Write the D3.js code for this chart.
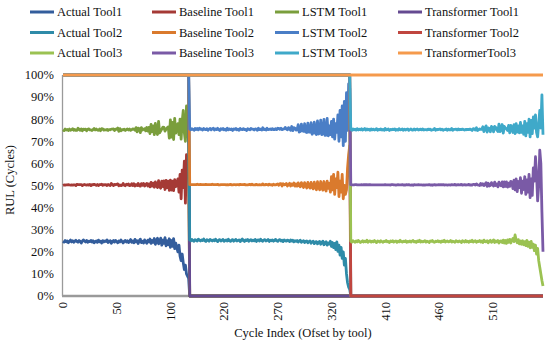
<!DOCTYPE html>
<html>
<head>
<meta charset="utf-8">
<script src="https://cdn.jsdelivr.net/npm/d3@7.9.0/dist/d3.min.js"></script>
<style>
  html, body { margin: 0; padding: 0; background: #fff; }
  svg { display: block; font-family: "Liberation Serif", "Times New Roman", serif; }
</style>
</head>
<body>
<svg id="chart" width="550" height="344"></svg>
<script>
// share of each model's RUL within a 100% stacked line (per cycle index)
const actualTool1 = [
  24.8, 24.4, 25.1, 24.6, 24.9, 24.1, 24.7, 25.3, 24.5, 25.0,
  24.3, 24.8, 25.2, 24.6, 24.4, 25.1, 24.7, 24.0, 24.8, 25.4,
  24.9, 24.5, 25.1, 24.3, 24.8, 24.6, 25.2, 24.4, 25.0, 24.1,
  24.7, 24.9, 24.3, 25.3, 24.6, 24.8, 24.0, 25.1, 24.5, 24.9,
  24.7, 25.4, 24.2, 24.8, 25.0, 23.9, 24.7, 25.1, 24.4, 25.2,
  24.6, 24.1, 24.9, 24.5, 25.3, 24.7, 24.0, 24.8, 25.1, 24.4,
  25.0, 24.2, 24.8, 25.5, 24.3, 24.9, 24.1, 25.6, 24.5, 25.0,
  23.8, 25.1, 25.7, 24.2, 24.8, 24.0, 25.4, 24.6, 23.9, 25.2,
  24.5, 25.8, 23.8, 25.1, 24.3, 26.0, 23.4, 24.9, 26.1, 23.6,
  24.7, 26.2, 23.0, 25.3, 23.8, 26.4, 22.7, 25.0, 23.2, 25.9,
  22.0, 25.1, 22.5, 26.0, 21.4, 23.9, 22.0, 20.0, 23.0, 18.0,
  16.0, 19.0, 15.0, 12.0, 14.0, 10.0, 9.0, 8.0
];
const baselineTool1 = [
  25.3, 25.9, 25.1, 25.7, 25.4, 26.2, 25.6, 24.9, 25.8, 25.2,
  26.0, 25.5, 24.8, 25.9, 26.1, 25.3, 25.7, 26.4, 25.2, 24.9,
  25.6, 25.8, 25.0, 26.1, 25.4, 25.9, 24.8, 26.0, 25.3, 26.5,
  25.7, 25.1, 26.2, 24.7, 25.8, 25.6, 26.6, 25.0, 25.9, 25.4,
  25.7, 24.6, 26.3, 25.5, 25.0, 27.0, 25.8, 24.9, 26.1, 25.2,
  25.9, 26.7, 25.0, 25.8, 24.6, 25.5, 26.9, 25.3, 24.8, 26.2,
  25.4, 26.5, 25.2, 24.5, 26.6, 25.1, 26.8, 24.2, 25.9, 25.0,
  27.2, 24.8, 24.0, 26.7, 25.3, 26.9, 24.4, 25.8, 27.1, 24.6,
  26.2, 23.6, 27.6, 24.6, 26.8, 23.2, 28.2, 25.0, 23.0, 28.6,
  24.8, 22.6, 29.0, 24.2, 28.3, 21.8, 29.6, 24.0, 28.8, 21.9,
  30.4, 22.8, 29.5, 21.7, 31.2, 25.6, 29.0, 33.0, 24.0, 37.0,
  28.0, 38.0, 34.0, 49.0, 28.0, 54.0, 49.0, 52.0
];
const lstmTool1 = [
  25.2, 24.6, 25.4, 24.9, 25.1, 24.5, 25.3, 24.8, 25.0, 25.6,
  24.7, 25.1, 24.9, 24.4, 25.5, 25.0, 24.6, 25.3, 24.8, 25.2,
  24.9, 25.3, 24.6, 25.1, 25.4, 24.7, 25.2, 24.5, 25.0, 25.3,
  24.8, 25.5, 24.6, 25.0, 25.2, 24.4, 25.1, 25.6, 24.7, 25.0,
  24.8, 25.4, 24.5, 25.1, 25.3, 24.6, 25.0, 25.7, 24.4, 25.2,
  24.9, 25.3, 24.6, 25.5, 24.8, 25.1, 24.3, 25.4, 25.0, 24.7,
  25.3, 24.5, 25.6, 24.9, 24.4, 25.7, 24.6, 25.2, 25.8, 24.3,
  25.0, 25.9, 24.2, 25.4, 25.1, 24.5, 26.0, 24.4, 25.3, 24.8,
  25.6, 24.1, 26.2, 24.7, 25.9, 23.8, 26.5, 24.6, 24.0, 26.8,
  24.3, 25.9, 23.5, 26.9, 24.2, 26.4, 23.2, 27.1, 24.5, 23.6,
  27.3, 24.0, 26.6, 23.1, 27.8, 24.2, 25.0, 25.0, 26.0, 25.0,
  27.0, 22.0, 35.0, 13.0, 28.0, 22.0, 24.0, 8.0
];
const transformerTool1 = [
  24.8, 25.2, 24.5, 24.9, 24.7, 25.1, 24.5, 25.0, 24.8, 24.3,
  25.0, 24.6, 25.1, 25.0, 24.1, 24.7, 25.0, 24.4, 25.2, 24.5,
  24.7, 24.5, 25.2, 24.6, 24.4, 24.8, 24.9, 25.1, 24.7, 24.2,
  24.9, 24.4, 25.0, 25.0, 24.5, 25.2, 24.3, 24.4, 25.0, 24.8,
  24.9, 24.6, 25.1, 24.7, 24.8, 24.5, 24.5, 24.4, 25.1, 24.5,
  24.6, 24.0, 25.5, 24.3, 25.2, 24.8, 24.8, 24.5, 25.1, 24.7,
  24.4, 24.9, 24.5, 25.0, 24.8, 24.4, 24.6, 25.0, 23.8, 25.7,
  24.1, 24.2, 26.1, 23.8, 24.9, 24.6, 24.3, 25.3, 23.8, 25.4,
  23.7, 26.5, 22.4, 25.6, 23.0, 27.0, 21.9, 25.5, 26.9, 21.0,
  26.2, 25.3, 24.5, 23.6, 23.7, 25.4, 24.5, 23.9, 23.5, 28.6,
  20.3, 28.1, 21.4, 29.2, 19.6, 26.3, 24.0, 22.0, 27.0, 20.0,
  29.0, 21.0, 16.0, 26.0, 30.0, 14.0, 18.0, 32.0
];

const actualTool2 = [
  25.4, 25.0, 25.6, 25.1, 24.8, 25.5, 25.2, 24.9, 25.7, 25.3,
  24.9, 25.4, 25.1, 25.8, 25.0, 24.7, 25.5, 25.2, 24.8, 25.6,
  25.3, 24.9, 25.4, 25.0, 25.7, 25.1, 24.6, 25.3, 25.5, 24.9,
  25.2, 25.6, 24.8, 25.1, 25.4, 24.9, 25.7, 25.0, 24.7, 25.3,
  25.5, 24.8, 25.2, 25.6, 24.9, 25.1, 25.4, 24.6, 25.3, 25.8,
  25.0, 24.7, 25.4, 25.1, 25.6, 24.8, 25.2, 25.5, 24.9, 25.3,
  25.0, 25.6, 24.7, 25.2, 25.4, 24.9, 25.7, 25.1, 24.8, 25.3,
  25.5, 24.9, 25.1, 25.6, 24.7, 25.3, 25.0, 25.4, 24.8, 25.2,
  25.6, 25.0, 24.7, 25.3, 25.5, 24.9, 25.2, 24.6, 25.4, 25.0,
  24.8, 25.3, 25.1, 24.6, 25.4, 24.9, 25.2, 24.5, 25.0, 24.7,
  25.1, 24.4, 24.9, 25.2, 24.3, 24.8, 25.0, 24.2, 24.7, 24.9,
  24.1, 24.6, 24.9, 23.9, 24.5, 24.8, 23.7, 24.4, 24.6, 23.6,
  24.3, 24.7, 23.4, 24.2, 24.8, 23.2, 24.1, 24.6, 23.0, 24.0,
  23.5, 24.8, 22.4, 24.2, 21.9, 23.8, 21.0, 24.5, 20.2, 23.0,
  18.5, 22.0, 17.0, 20.0, 14.0, 17.0, 10.0, 6.0, 4.0, 3.0
];
const baselineTool2 = [
  25.0, 25.5, 24.8, 25.3, 25.6, 24.9, 25.2, 25.7, 24.7, 25.1,
  25.6, 25.0, 25.3, 24.6, 25.4, 25.8, 24.9, 25.2, 25.6, 24.8,
  25.1, 25.7, 25.0, 25.4, 24.7, 25.3, 25.9, 25.0, 24.8, 25.5,
  25.2, 24.8, 25.6, 25.3, 24.9, 25.5, 24.6, 25.4, 25.8, 25.0,
  24.8, 25.6, 25.2, 24.7, 25.5, 25.3, 24.9, 25.9, 25.1, 24.6,
  25.4, 25.8, 24.9, 25.2, 24.7, 25.6, 25.3, 24.8, 25.7, 25.0,
  25.3, 24.7, 25.8, 25.1, 24.9, 25.5, 24.6, 25.2, 25.9, 25.0,
  24.8, 25.6, 25.3, 24.6, 25.9, 25.0, 25.4, 24.7, 25.8, 25.1,
  24.7, 25.5, 26.0, 24.8, 25.3, 25.9, 24.6, 26.2, 24.9, 25.4,
  26.1, 24.5, 25.3, 26.4, 24.4, 25.8, 24.9, 26.6, 24.7, 26.0,
  24.6, 26.8, 25.0, 24.2, 27.0, 25.4, 24.1, 27.1, 25.3, 24.0,
  27.3, 25.1, 23.9, 27.5, 24.6, 23.7, 27.8, 24.9, 23.5, 28.1,
  24.8, 23.4, 28.4, 24.9, 23.1, 28.6, 24.6, 22.9, 29.0, 24.7,
  27.5, 22.2, 31.6, 23.8, 33.1, 22.2, 32.0, 24.5, 35.8, 22.0,
  33.5, 25.0, 38.0, 24.0, 36.0, 29.0, 38.0, 52.0, 60.0, 65.0
];
const lstmTool2 = [
  25.1, 24.7, 25.3, 25.0, 24.6, 25.4, 24.9, 25.2, 24.8, 25.5,
  24.9, 25.2, 24.7, 25.4, 25.0, 24.8, 25.3, 24.6, 25.1, 25.4,
  24.8, 25.1, 25.5, 24.7, 25.2, 24.9, 25.4, 25.0, 24.6, 25.3,
  25.0, 25.4, 24.8, 25.1, 24.7, 25.5, 24.9, 25.2, 24.8, 25.3,
  24.6, 25.2, 25.0, 25.5, 24.8, 25.1, 24.7, 25.3, 25.0, 24.9,
  25.3, 24.8, 25.1, 24.6, 25.4, 25.0, 24.7, 25.5, 24.9, 25.2,
  24.8, 25.3, 25.0, 24.7, 25.6, 24.9, 25.2, 24.8, 25.4, 25.0,
  25.2, 24.6, 25.5, 25.1, 24.8, 25.3, 24.9, 25.6, 24.7, 25.0,
  25.4, 24.8, 25.2, 25.7, 24.6, 25.1, 25.5, 24.7, 25.3, 25.9,
  24.6, 25.4, 25.8, 24.5, 25.2, 26.0, 24.7, 25.1, 26.2, 24.4,
  25.5, 26.3, 24.3, 25.0, 26.5, 24.6, 25.4, 26.7, 24.2, 25.1,
  26.8, 24.5, 25.3, 27.0, 24.1, 25.6, 27.2, 24.3, 25.0, 27.5,
  24.2, 25.7, 27.8, 23.9, 25.5, 28.1, 24.0, 25.3, 28.4, 23.8,
  26.0, 26.0, 25.0, 24.0, 25.0, 25.0, 25.0, 25.0, 26.0, 25.0,
  32.0, 25.0, 31.0, 24.0, 38.0, 24.0, 44.0, 17.0, 32.0, 26.0
];
const transformerTool2 = [
  24.5, 24.8, 24.3, 24.6, 25.0, 24.2, 24.7, 24.2, 24.8, 24.1,
  24.6, 24.4, 24.9, 24.2, 24.6, 24.7, 24.3, 25.0, 24.5, 24.2,
  24.8, 24.3, 24.1, 24.9, 24.4, 24.7, 24.1, 24.7, 25.1, 24.3,
  24.6, 24.2, 24.8, 24.5, 25.0, 24.1, 24.8, 24.4, 24.7, 24.4,
  25.1, 24.4, 24.6, 24.2, 24.8, 24.5, 25.0, 24.2, 24.6, 24.7,
  24.3, 24.7, 24.6, 25.1, 24.3, 24.6, 24.8, 24.2, 24.5, 24.5,
  24.9, 24.4, 24.5, 25.0, 24.1, 24.7, 24.5, 24.9, 23.9, 24.7,
  24.5, 24.9, 24.1, 24.7, 24.6, 24.4, 24.7, 24.3, 24.7, 24.7,
  24.3, 24.7, 24.1, 24.2, 24.6, 24.1, 24.7, 24.5, 24.4, 23.7,
  24.5, 24.8, 23.8, 24.5, 25.0, 23.3, 25.2, 23.8, 24.1, 24.9,
  24.8, 22.5, 25.8, 25.6, 22.2, 25.2, 25.5, 22.0, 25.8, 26.0,
  21.8, 25.8, 25.9, 21.6, 26.8, 25.9, 21.3, 26.4, 26.9, 20.8,
  26.7, 26.2, 20.4, 27.0, 26.6, 20.1, 27.3, 27.2, 19.6, 27.5,
  23.0, 27.0, 21.0, 28.0, 20.0, 29.0, 22.0, 26.0, 18.0, 30.0,
  16.0, 28.0, 14.0, 32.0, 12.0, 30.0, 8.0, 25.0, 4.0, 6.0
];

const actualTool3 = [
  24.8, 24.4, 25.0, 24.6, 24.3, 24.9, 24.5, 25.1, 24.7, 24.2,
  24.6, 25.0, 24.4, 24.8, 24.5, 25.2, 24.3, 24.7, 24.9, 24.4,
  24.8, 24.5, 25.1, 24.6, 24.2, 24.9, 24.7, 24.4, 25.0, 24.6,
  24.3, 24.8, 24.6, 25.1, 24.5, 24.7, 24.2, 24.9, 24.6, 25.0,
  24.4, 24.7, 24.9, 24.3, 24.8, 24.5, 25.2, 24.6, 24.4, 24.8,
  24.6, 25.0, 24.3, 24.7, 24.5, 24.9, 24.4, 24.8, 25.1, 24.5,
  24.7, 24.3, 24.9, 24.6, 25.2, 24.4, 24.8, 24.5, 24.7, 25.0,
  24.4, 24.8, 24.6, 24.2, 24.9, 24.7, 25.1, 24.5, 24.3, 24.8,
  24.6, 25.0, 24.5, 24.8, 24.3, 24.9, 24.6, 25.2, 24.4, 24.7,
  24.9, 24.5, 24.7, 25.1, 24.4, 24.8, 24.6, 24.3, 25.0, 24.7,
  24.5, 24.9, 24.6, 24.2, 25.0, 24.7, 24.4, 25.1, 24.5, 24.8,
  24.3, 24.9, 24.6, 25.2, 24.4, 24.7, 25.0, 24.3, 24.8, 24.6,
  25.1, 24.4, 24.9, 24.2, 25.3, 24.6, 24.5, 25.0, 24.1, 24.8,
  25.2, 24.3, 24.7, 25.4, 24.2, 24.9, 24.5, 25.1, 24.0, 24.8,
  24.9, 24.2, 25.3, 24.0, 25.1, 23.8, 25.4, 24.3, 25.6, 24.0,
  25.2, 26.0, 24.6, 27.6, 25.3, 24.1, 25.5, 23.6, 24.9, 23.4,
  25.0, 23.2, 24.6, 22.8, 25.2, 22.5, 24.4, 21.8, 24.7, 22.0,
  23.5, 20.5, 23.0, 19.0, 21.5, 16.0, 13.0, 10.0, 7.0, 4.5
];
const baselineTool3 = [
  25.5, 25.9, 25.2, 25.7, 26.0, 25.4, 25.8, 25.1, 25.6, 26.1,
  25.7, 25.3, 25.9, 25.5, 25.8, 25.1, 26.0, 25.6, 25.4, 25.9,
  25.5, 25.8, 25.2, 25.7, 26.1, 25.4, 25.6, 25.9, 25.3, 25.7,
  26.0, 25.5, 25.8, 25.2, 25.7, 25.6, 26.1, 25.3, 25.8, 25.4,
  25.9, 25.6, 25.3, 26.0, 25.5, 25.8, 25.1, 25.7, 26.0, 25.4,
  25.7, 25.2, 26.1, 25.6, 25.9, 25.3, 25.8, 25.5, 25.0, 25.9,
  25.6, 26.0, 25.4, 25.8, 25.1, 25.9, 25.5, 25.7, 25.6, 25.2,
  25.9, 25.5, 25.7, 26.2, 25.3, 25.6, 25.0, 25.8, 26.1, 25.4,
  25.7, 25.3, 25.9, 25.5, 26.1, 25.4, 25.8, 25.0, 25.9, 25.6,
  25.3, 25.8, 25.6, 25.1, 26.0, 25.5, 25.7, 26.2, 25.2, 25.6,
  25.9, 25.4, 25.7, 26.3, 25.2, 25.6, 26.0, 25.1, 25.8, 25.5,
  26.2, 25.3, 25.7, 25.0, 26.1, 25.8, 25.2, 26.4, 25.5, 25.6,
  24.9, 26.5, 25.3, 26.6, 24.7, 26.0, 26.8, 24.6, 26.9, 25.0,
  24.8, 27.0, 25.6, 24.4, 27.3, 25.1, 26.2, 24.3, 27.5, 25.4,
  25.0, 27.4, 24.1, 27.6, 24.5, 27.8, 23.9, 26.8, 24.0, 27.9,
  26.3, 22.6, 27.8, 20.4, 27.7, 23.1, 26.3, 25.4, 28.6, 23.1,
  27.0, 25.0, 29.4, 23.2, 27.3, 24.5, 30.6, 22.7, 28.3, 23.5,
  34.5, 31.5, 40.0, 36.0, 21.5, 34.0, 53.0, 50.0, 31.0, 15.5
];
const lstmTool3 = [
  25.0, 24.7, 25.3, 24.9, 25.1, 24.6, 25.4, 24.8, 25.2, 24.9,
  25.3, 24.8, 25.0, 25.4, 24.7, 25.2, 24.9, 25.1, 24.6, 25.3,
  24.9, 25.2, 24.8, 25.0, 25.5, 24.7, 25.1, 24.9, 25.3, 24.8,
  25.1, 24.7, 25.4, 24.9, 25.0, 25.3, 24.6, 25.2, 24.8, 25.1,
  25.0, 25.3, 24.8, 25.1, 24.7, 25.4, 24.9, 25.0, 25.2, 24.8,
  25.2, 24.9, 25.0, 25.3, 24.6, 25.1, 25.4, 24.8, 25.0, 25.2,
  24.8, 25.1, 25.3, 24.7, 25.0, 25.2, 24.9, 25.4, 24.8, 25.1,
  25.0, 24.8, 25.2, 24.9, 25.3, 24.7, 25.1, 25.0, 25.4, 24.8,
  25.1, 24.9, 25.0, 25.3, 24.8, 25.2, 24.6, 25.1, 25.0, 25.3,
  24.8, 25.2, 24.9, 25.0, 25.4, 24.7, 25.1, 24.9, 25.3, 24.8,
  25.2, 24.9, 25.1, 24.8, 25.3, 25.0, 24.7, 25.2, 24.9, 25.1,
  24.8, 25.3, 25.0, 24.7, 25.2, 25.1, 24.9, 25.4, 24.6, 25.0,
  25.6, 24.5, 25.2, 25.8, 24.4, 25.3, 25.7, 24.6, 25.1, 25.9,
  24.3, 25.4, 26.0, 24.5, 25.2, 26.2, 24.4, 25.0, 26.3, 24.2,
  25.5, 26.0, 24.3, 25.1, 26.4, 24.0, 25.6, 26.1, 24.2, 25.3,
  25.0, 25.4, 25.1, 25.5, 25.0, 27.0, 25.2, 24.8, 25.0, 27.5,
  25.0, 25.0, 25.0, 26.5, 25.5, 27.0, 25.0, 27.5, 26.5, 28.0,
  23.0, 24.0, 19.0, 19.0, 29.0, 28.0, 18.0, 16.0, 53.0, 53.0
];
const transformerTool3 = [
  24.6, 25.0, 24.4, 24.8, 24.5, 24.9, 24.3, 24.8, 24.5, 24.8,
  24.3, 24.9, 24.6, 24.2, 24.9, 24.4, 24.8, 24.5, 25.0, 24.4,
  24.8, 24.5, 24.9, 24.7, 24.3, 25.0, 24.6, 24.8, 24.4, 24.9,
  24.6, 25.0, 24.2, 24.8, 24.7, 24.4, 25.1, 24.6, 24.8, 24.5,
  24.7, 24.4, 25.0, 24.6, 24.9, 24.3, 24.8, 24.7, 24.4, 25.0,
  24.5, 24.9, 24.6, 24.4, 25.0, 24.7, 24.4, 24.9, 24.9, 24.4,
  24.9, 24.6, 24.4, 24.9, 24.7, 24.5, 24.8, 24.4, 24.9, 24.7,
  24.7, 24.9, 24.5, 24.7, 24.5, 25.0, 24.8, 24.7, 24.2, 25.0,
  24.6, 24.8, 24.6, 24.4, 24.8, 24.5, 25.0, 24.7, 24.7, 24.4,
  25.0, 24.5, 24.8, 24.8, 24.2, 25.0, 24.6, 24.6, 24.5, 24.9,
  24.4, 24.8, 24.6, 24.7, 24.5, 24.7, 24.9, 24.6, 24.8, 24.6,
  24.7, 24.5, 24.7, 25.1, 24.3, 24.4, 24.9, 23.9, 25.1, 24.8,
  24.4, 24.6, 24.6, 23.4, 25.6, 24.1, 23.0, 25.8, 23.9, 24.3,
  25.7, 23.3, 23.7, 25.7, 23.3, 23.8, 24.9, 25.6, 22.2, 25.6,
  24.6, 22.4, 26.3, 23.3, 24.0, 24.4, 25.1, 22.8, 26.2, 22.8,
  23.5, 26.0, 22.5, 26.5, 22.0, 25.8, 23.0, 26.2, 21.5, 26.0,
  23.0, 26.8, 21.0, 27.5, 22.0, 26.0, 20.0, 28.0, 20.5, 26.5,
  19.0, 24.0, 18.0, 26.0, 28.0, 22.0, 16.0, 24.0, 9.0, 27.0
];

const tools = [
  [actualTool1, baselineTool1, lstmTool1, transformerTool1],
  [actualTool2, baselineTool2, lstmTool2, transformerTool2],
  [actualTool3, baselineTool3, lstmTool3, transformerTool3]
];
const seriesNames = [
  'Actual Tool1', 'Baseline Tool1', 'LSTM Tool1', 'Transformer Tool1',
  'Actual Tool2', 'Baseline Tool2', 'LSTM Tool2', 'Transformer Tool2',
  'Actual Tool3', 'Baseline Tool3', 'LSTM Tool3', 'TransformerTool3'
];
const seriesColors = [
  '#335d9c', '#a53a36', '#7a9e3c', '#654a91',
  '#2e8ba8', '#da7a2d', '#4a7ec6', '#c0463f',
  '#9bc252', '#7a5aa6', '#3fa9c9', '#f59a4c'
];
const tickCats = [0, 50, 100, 150, 200, 250, 300, 350, 400];
const tickLabels = ['0', '50', '100', '220', '270', '320', '410', '460', '510'];
const yTicks = [0, 0.1, 0.2, 0.3, 0.4, 0.5, 0.6, 0.7, 0.8, 0.9, 1];

// build one row per cycle index; series are zero outside their tool's block
const rows = [];
tools.forEach((group, t) => {
  const n = group[0].length;
  for (let i = 0; i < n; i++) {
    const row = {};
    seriesNames.forEach((name, s) => {
      row[name] = Math.floor(s / 4) === t ? group[s % 4][i] : 0;
    });
    rows.push(row);
  }
});

const stacked = d3.stack().keys(seriesNames).offset(d3.stackOffsetExpand)(rows);

const svg = d3.select('#chart');
const x = d3.scaleLinear().domain([0, rows.length - 1]).range([63, 543]);
const y = d3.scaleLinear().domain([0, 1]).range([296, 75]);

// axis lines
svg.append('line')
  .attr('x1', 62.5).attr('x2', 62.5).attr('y1', 75).attr('y2', 296)
  .attr('stroke', '#9a9a9a').attr('stroke-width', 1.3);
svg.append('line')
  .attr('x1', 62).attr('x2', 543).attr('y1', 296).attr('y2', 296)
  .attr('stroke', '#9a9a9a').attr('stroke-width', 2.6);

// y tick labels
svg.append('g')
  .selectAll('text')
  .data(yTicks)
  .join('text')
  .attr('x', 54)
  .attr('y', (d) => y(d))
  .attr('dy', '0.35em')
  .attr('text-anchor', 'end')
  .attr('font-size', 12.5)
  .attr('fill', '#111')
  .text((d) => d3.format('.0%')(d));

// x tick labels, rotated
svg.append('g')
  .selectAll('text')
  .data(tickCats)
  .join('text')
  .attr('transform', (d) => `translate(${x(d)},302) rotate(-90)`)
  .attr('dy', '0.35em')
  .attr('text-anchor', 'end')
  .attr('font-size', 12.5)
  .attr('fill', '#111')
  .text((d, i) => tickLabels[i]);

// lines
const line = d3.line()
  .x((d, i) => x(i))
  .y((d) => y(d[1]));

svg.append('g')
  .selectAll('path')
  .data(stacked)
  .join('path')
  .attr('d', line)
  .attr('fill', 'none')
  .attr('stroke', (d, i) => seriesColors[i])
  .attr('stroke-width', 2.8)
  .attr('stroke-linejoin', 'round');

// axis titles
svg.append('text')
  .attr('x', 303).attr('y', 337)
  .attr('text-anchor', 'middle')
  .attr('font-size', 12.5)
  .attr('fill', '#111')
  .text('Cycle Index (Ofset by tool)');

svg.append('text')
  .attr('transform', 'translate(14,180) rotate(-90)')
  .attr('text-anchor', 'middle')
  .attr('font-size', 12.5)
  .attr('fill', '#111')
  .text('RUL (Cycles)');

// legend, 4 columns x 3 rows
const legendX = [30, 152, 275, 398];
const legendY = [12, 32.5, 53];
const legend = svg.append('g')
  .selectAll('g')
  .data(seriesNames)
  .join('g')
  .attr('transform', (d, i) => `translate(${legendX[i % 4]},${legendY[Math.floor(i / 4)]})`);
legend.append('line')
  .attr('x1', 0).attr('x2', 24)
  .attr('stroke', (d, i) => seriesColors[i])
  .attr('stroke-width', 3);
legend.append('text')
  .attr('x', 27)
  .attr('dy', '0.35em')
  .attr('font-size', 12.5)
  .attr('fill', '#111')
  .text((d) => d);
</script>
</body>
</html>
